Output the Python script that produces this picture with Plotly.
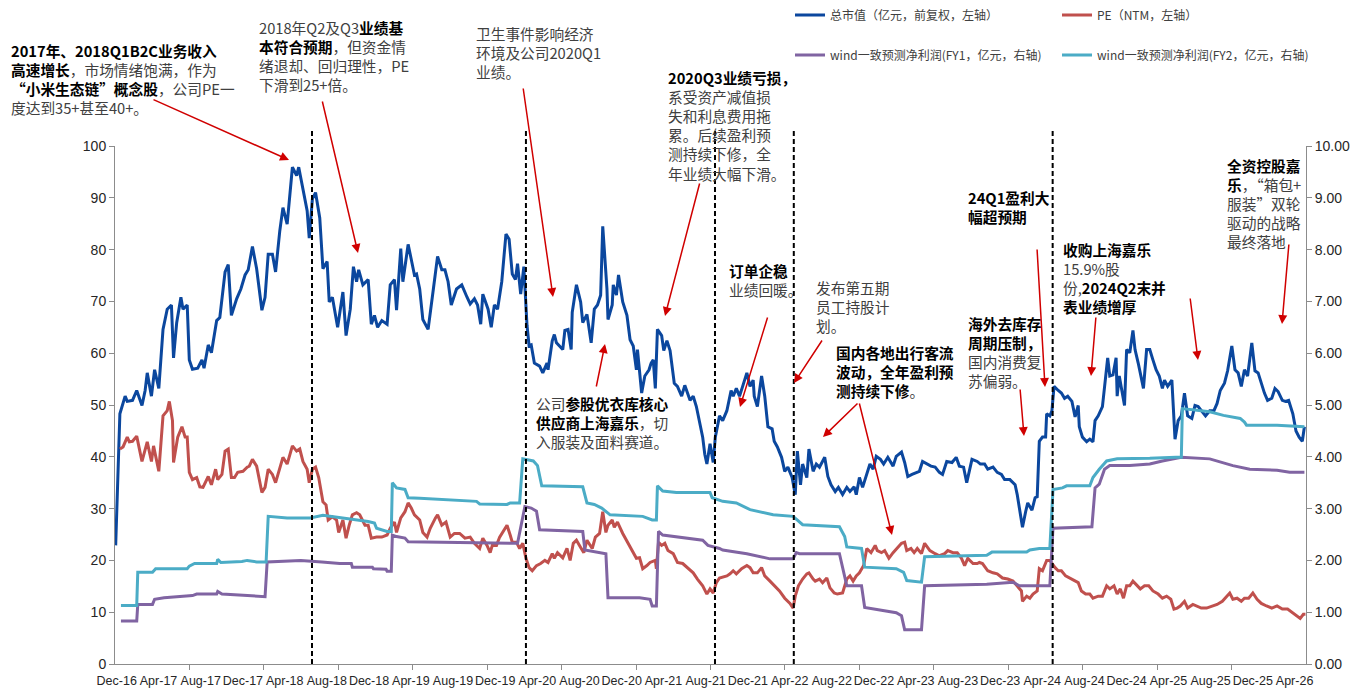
import numpy as np
import pandas as pd
import plotly.graph_objects as go

# ---------------- data ----------------
# time is given in months after 1 Dec 2016
mv_months = [
    -0.1, 0.3, 0.8, 1.0, 1.5, 1.9, 2.4, 2.7, 2.9, 3.3,
    3.6, 4.0, 4.4, 4.8, 5.2, 5.4, 5.7, 6.1, 6.3, 6.7,
    6.9, 7.2, 7.7, 8.1, 8.3, 8.7, 9.0, 9.5, 9.8, 10.3,
    10.6, 10.9, 11.4, 11.8, 12.2, 12.5, 12.9, 13.3, 13.8, 14.1,
    14.4, 14.8, 15.1, 15.5, 15.8, 16.2, 16.7, 17.1, 17.3, 17.7,
    18.1, 18.3, 18.6, 18.9, 19.3, 19.6, 20.0, 20.2, 20.5, 21.0,
    21.5, 21.8, 22.2, 22.5, 22.8, 23.0, 23.4, 23.9, 24.2, 24.5,
    24.8, 25.2, 25.7, 26.0, 26.4, 26.6, 27.0, 27.2, 27.7, 28.0,
    28.3, 28.5, 28.8, 29.1, 29.6, 30.1, 30.5, 30.9, 31.2, 31.5,
    31.8, 32.3, 32.8, 33.3, 33.6, 34.0, 34.3, 34.6, 34.8, 35.3,
    35.6, 35.9, 36.2, 36.6, 37.0, 37.3, 37.6, 37.9, 38.1, 38.4,
    38.7, 39.0, 39.2, 39.4, 39.7, 40.2, 40.5, 40.9, 41.0, 41.4,
    41.6, 41.8, 42.1, 42.4, 42.6, 42.9, 43.2, 43.3, 43.7, 44.1,
    44.3, 44.7, 45.1, 45.4, 45.7, 46.0, 46.2, 46.6, 46.7, 47.1,
    47.2, 47.5, 47.7, 48.1, 48.5, 48.8, 49.1, 49.4, 49.5, 49.9,
    50.2, 50.6, 50.8, 51.0, 51.2, 51.4, 51.8, 52.0, 52.3, 52.6,
    53.0, 53.3, 53.7, 54.0, 54.5, 54.8, 55.1, 55.4, 55.7, 55.9,
    56.1, 56.4, 56.7, 56.9, 57.3, 57.6, 58.0, 58.4, 58.6, 58.9,
    59.2, 59.5, 59.9, 60.2, 60.5, 60.6, 60.9, 61.3, 61.6, 61.9,
    62.3, 62.5, 62.8, 63.2, 63.5, 63.8, 64.2, 64.5, 64.7, 65.0,
    65.2, 65.6, 65.8, 66.2, 66.5, 66.8, 67.3, 67.6, 67.9, 68.3,
    68.6, 69.0, 69.4, 69.7, 70.1, 70.3, 70.6, 70.9, 71.3, 71.6,
    71.9, 72.2, 72.6, 72.9, 73.3, 73.8, 74.1, 74.6, 74.9, 75.2,
    75.6, 76.0, 76.3, 76.6, 77.0, 77.4, 77.8, 78.2, 78.5, 78.9,
    79.4, 79.8, 80.1, 80.5, 80.8, 81.3, 81.8, 82.1, 82.5, 82.8,
    83.3, 83.7, 84.1, 84.4, 84.9, 85.4, 85.6, 86.1, 86.4, 86.6,
    87.0, 87.3, 87.5, 87.7, 88.0, 88.3, 88.4, 88.7, 88.9, 89.1,
    89.5, 89.8, 90.1, 90.4, 90.8, 91.1, 91.4, 91.5, 91.8, 92.2,
    92.5, 92.8, 93.0, 93.3, 93.7, 93.9, 94.2, 94.4, 94.7, 95.0,
    95.1, 95.3, 95.6, 95.8, 96.0, 96.3, 96.6, 96.8, 97.1, 97.4,
    97.6, 97.9, 98.2, 98.5, 98.8, 99.1, 99.4, 99.6, 99.9, 100.3,
    100.6, 100.9, 101.2, 101.5, 101.8, 102.2, 102.5, 102.8, 103.2, 103.5,
    103.9, 104.3, 104.6, 104.9, 105.3, 105.6, 106.0, 106.3, 106.6, 106.9,
    107.2, 107.5, 107.9, 108.2, 108.5, 108.9, 109.1, 109.4, 109.8, 110.1,
    110.4, 110.8, 111.1, 111.4, 111.8, 112.1, 112.4, 112.7, 112.9,
]
mv_values = [
    22.9, 48.3, 51.7, 50.7, 50.9, 52.8, 49.9, 52.8, 56.2, 51.7,
    56.8, 53.2, 64.6, 68.5, 69.3, 59.1, 65.9, 70.8, 68.5, 69.3,
    58.7, 56.9, 57.1, 58.7, 57.1, 61.6, 60.1, 66.3, 66.9, 75.7,
    77.1, 67.3, 70.5, 72.4, 75.1, 76.1, 80.6, 76.3, 68.3, 70.8,
    79.1, 79.1, 75.7, 83.6, 88.1, 84.9, 95.9, 94.3, 95.9, 91.4,
    87.5, 82.2, 89.8, 91.0, 86.1, 76.3, 77.7, 69.9, 70.8, 65.0,
    71.8, 63.4, 68.5, 76.7, 73.8, 76.1, 73.2, 74.2, 65.6, 67.3,
    65.0, 66.3, 65.6, 73.2, 74.2, 68.3, 80.2, 73.8, 81.0, 78.1,
    75.1, 75.3, 72.4, 66.5, 64.6, 72.4, 78.7, 76.1, 76.1, 73.8,
    69.3, 72.4, 73.2, 70.8, 69.5, 70.5, 69.3, 65.6, 71.4, 68.5,
    65.0, 69.3, 68.5, 73.8, 83.0, 82.0, 75.3, 74.2, 77.3, 71.4,
    76.7, 65.4, 61.4, 61.6, 58.1, 57.5, 56.2, 58.1, 56.8, 62.4,
    63.6, 62.0, 61.4, 60.7, 64.4, 64.6, 60.7, 67.9, 73.2, 69.9,
    65.9, 67.5, 62.0, 68.5, 69.3, 71.2, 84.5, 72.4, 66.5, 69.3,
    73.2, 71.2, 75.1, 69.9, 67.3, 62.6, 61.4, 56.8, 60.7, 52.3,
    55.6, 56.8, 58.1, 58.7, 53.2, 64.6, 63.4, 60.5, 62.4, 60.5,
    54.2, 53.6, 51.7, 53.8, 50.9, 51.7, 49.7, 46.4, 43.8, 40.5,
    38.6, 42.5, 38.9, 43.8, 47.9, 47.0, 48.9, 52.8, 51.7, 53.2,
    51.7, 53.6, 56.2, 53.6, 54.8, 51.7, 49.7, 55.6, 51.7, 45.8,
    45.4, 43.0, 41.9, 39.9, 37.2, 38.0, 36.0, 32.7, 41.1, 34.6,
    38.6, 36.0, 41.5, 37.2, 38.6, 38.0, 39.9, 36.2, 34.6, 33.3,
    34.1, 32.7, 34.1, 33.3, 34.2, 32.7, 36.0, 34.1, 36.6, 38.6,
    37.6, 40.1, 39.5, 38.6, 39.9, 38.2, 40.1, 40.9, 38.9, 36.2,
    36.6, 37.0, 37.2, 39.1, 38.6, 38.2, 38.0, 37.0, 36.6, 39.1,
    38.9, 39.9, 38.2, 38.0, 35.0, 39.5, 39.1, 38.6, 38.6, 37.6,
    38.0, 37.0, 36.6, 35.6, 35.6, 34.6, 32.7, 26.4, 29.4, 31.1,
    29.7, 32.1, 32.3, 43.0, 43.8, 43.8, 48.3, 47.9, 48.9, 53.6,
    52.8, 52.3, 51.3, 51.7, 50.7, 47.7, 49.9, 45.8, 43.8, 42.9,
    43.4, 42.9, 47.0, 47.9, 49.7, 53.6, 59.1, 55.6, 55.8, 59.1,
    51.7, 55.6, 52.6, 49.9, 60.7, 60.1, 64.4, 60.7, 58.1, 54.8,
    53.2, 60.7, 60.7, 58.7, 56.8, 55.6, 53.2, 54.8, 53.6, 54.8,
    43.4, 47.0, 47.9, 52.3, 47.9, 47.4, 49.9, 49.7, 48.7, 47.9,
    48.9, 48.9, 50.3, 52.8, 54.2, 56.6, 61.4, 56.8, 56.2, 53.6,
    56.8, 55.6, 62.0, 56.6, 56.2, 53.6, 52.3, 50.9, 51.3, 53.2,
    52.6, 50.9, 50.7, 50.9, 48.3, 45.0, 43.8, 43.0, 45.8,
]

pe_months = [
    0.3, 0.6, 1.0, 1.2, 1.5, 1.9, 2.4, 2.7, 2.9, 3.3, 3.5,
    4.0, 4.4, 4.8, 5.0, 5.3, 5.4, 5.8, 6.2, 6.5, 6.7,
    6.9, 7.2, 7.6, 7.9, 8.2, 8.7, 9.0, 9.4, 9.6, 10.0,
    10.3, 10.6, 10.9, 11.2, 11.5, 12.0, 12.4, 12.6, 12.9, 13.3,
    13.8, 14.1, 14.4, 14.8, 15.1, 15.5, 15.8, 16.2, 16.7, 17.1,
    17.4, 17.7, 18.1, 18.3, 18.6, 18.9, 19.2, 19.6, 19.9, 20.1,
    20.5, 20.9, 21.1, 21.5, 21.8, 22.1, 22.4, 22.8, 23.1, 23.6,
    23.9, 24.2, 24.7, 25.2, 25.7, 26.0, 26.4, 26.6, 27.0, 27.4,
    27.7, 28.0, 28.3, 28.8, 29.1, 29.5, 29.8, 30.3, 30.5, 30.9,
    31.3, 31.7, 32.1, 32.6, 33.1, 33.6, 34.0, 34.5, 34.8, 35.2,
    35.5, 35.7, 36.1, 36.4, 36.7, 37.1, 37.4, 37.6, 38.0, 38.3,
    38.6, 38.9, 39.2, 39.5, 39.9, 40.3, 40.7, 41.0, 41.4, 41.6,
    41.9, 42.4, 42.8, 43.1, 43.4, 43.7, 44.1, 44.4, 44.7, 45.2,
    45.5, 45.9, 46.2, 46.5, 46.7, 47.1, 47.3, 47.6, 48.1, 48.6,
    49.0, 49.4, 49.7, 50.0, 50.4, 50.7, 51.2, 51.3, 51.5, 51.8,
    52.1, 52.4, 52.9, 53.3, 53.8, 54.3, 54.8, 55.2, 55.7, 56.1,
    56.4, 56.7, 57.0, 57.3, 58.0, 58.3, 58.6, 58.9, 59.4, 59.9,
    60.2, 60.5, 60.9, 61.3, 61.6, 62.1, 62.5, 63.0, 63.5, 64.0,
    64.3, 64.5, 64.8, 65.2, 65.6, 65.8, 66.2, 66.4, 66.8, 67.1,
    67.5, 67.8, 68.2, 68.5, 69.0, 69.4, 69.7, 70.0, 70.3, 70.6,
    71.0, 71.3, 71.7, 72.1, 72.3, 72.7, 73.0, 73.4, 73.8, 74.2,
    74.6, 74.9, 75.1, 75.5, 75.8, 76.1, 76.5, 76.8, 77.3, 77.8,
    78.2, 78.7, 79.0, 79.5, 79.9, 80.3, 80.6, 80.9, 81.4, 81.8,
    82.0, 82.3, 82.8, 83.3, 83.7, 84.2, 84.7, 85.2, 85.6, 86.0,
    86.1, 86.5, 86.8, 87.1, 87.5, 87.7, 88.0, 88.4, 88.7, 89.0,
    89.2, 89.5, 89.8, 90.2, 90.6, 91.1, 91.4, 91.7, 92.1, 92.5,
    92.8, 93.3, 93.7, 94.1, 94.4, 94.8, 95.1, 95.4, 95.7, 96.0,
    96.3, 96.6, 97.0, 97.3, 97.7, 98.1, 98.5, 99.0, 99.4, 99.8,
    100.2, 100.5, 100.8, 101.1, 101.5, 101.8, 102.3, 102.7, 103.1, 103.6,
    104.1, 104.6, 105.1, 105.4, 105.8, 106.1, 106.5, 106.9, 107.2, 107.6,
    108.0, 108.4, 108.8, 109.3, 109.8, 110.3, 110.8, 111.3, 111.8, 112.2,
    112.5, 112.8, 113.0,
]
pe_values = [
    41.5, 41.9, 43.8, 42.9, 43.0, 44.0, 39.1, 41.1, 42.9, 39.1, 42.1,
    37.2, 47.9, 48.9, 50.7, 47.0, 38.9, 43.8, 45.8, 43.8, 43.8,
    37.0, 35.6, 36.0, 34.2, 34.1, 36.2, 34.6, 37.6, 35.6, 36.6,
    41.1, 41.5, 36.0, 36.0, 37.0, 37.2, 38.0, 38.2, 39.5, 38.2,
    33.1, 34.1, 37.6, 36.6, 35.0, 37.6, 39.9, 38.6, 42.1, 41.1,
    41.5, 39.1, 37.6, 35.0, 37.6, 38.0, 36.0, 31.3, 30.7, 27.8,
    28.4, 27.8, 25.4, 27.8, 24.3, 26.8, 28.8, 29.2, 28.8, 26.8,
    26.8, 24.3, 24.5, 24.5, 24.9, 26.2, 27.4, 25.4, 28.2, 29.4,
    31.1, 30.1, 28.8, 27.8, 25.4, 24.5, 26.2, 28.2, 28.8, 26.8,
    27.4, 24.5, 25.2, 25.2, 24.3, 24.5, 23.3, 22.3, 24.3, 22.9,
    21.5, 22.9, 22.9, 24.5, 25.4, 26.8, 24.9, 23.5, 23.5, 22.3,
    23.3, 20.4, 18.6, 18.0, 19.0, 19.4, 20.0, 19.6, 21.3, 20.4,
    21.5, 20.5, 22.3, 20.0, 23.3, 23.9, 22.5, 21.5, 23.9, 22.3,
    24.5, 25.2, 29.4, 25.4, 26.8, 27.8, 26.4, 27.4, 25.2, 23.3,
    21.9, 20.4, 20.5, 18.4, 19.0, 19.6, 20.0, 18.4, 23.5, 22.9,
    23.3, 21.9, 21.3, 19.6, 19.4, 18.4, 17.6, 16.4, 15.1, 13.5,
    14.5, 13.7, 15.7, 16.6, 17.0, 17.4, 18.0, 17.4, 18.4, 19.0,
    18.6, 17.6, 17.6, 18.6, 17.0, 16.0, 15.1, 14.1, 12.7, 11.7,
    10.8, 13.1, 15.1, 16.4, 17.4, 17.6, 16.4, 16.0, 16.4, 15.7,
    16.6, 14.7, 13.7, 13.5, 13.7, 16.4, 17.0, 16.0, 17.0, 17.6,
    19.0, 22.3, 21.5, 22.9, 21.9, 21.5, 21.9, 20.4, 21.5, 22.3,
    23.3, 23.5, 21.9, 22.3, 21.5, 22.3, 21.3, 23.3, 21.9, 21.3,
    20.9, 21.3, 21.9, 21.5, 21.5, 20.4, 19.0, 20.4, 19.4, 19.4,
    19.6, 19.4, 18.0, 17.6, 17.4, 16.6, 16.4, 16.0, 15.1, 14.1,
    12.1, 13.1, 12.7, 13.5, 14.1, 18.4, 18.0, 20.0, 20.0, 19.0,
    18.6, 18.0, 18.0, 17.0, 16.6, 16.0, 15.7, 14.1, 13.5, 13.5,
    12.7, 13.1, 13.1, 15.1, 14.5, 15.1, 13.5, 14.5, 12.7, 15.1,
    15.1, 16.0, 15.1, 14.5, 15.1, 15.1, 14.1, 13.5, 12.7, 13.1,
    12.5, 10.6, 10.8, 11.2, 12.1, 10.8, 11.5, 11.2, 10.8, 10.8,
    11.2, 11.5, 12.1, 12.7, 13.7, 12.5, 12.7, 12.1, 12.7, 12.7,
    13.7, 12.5, 11.7, 11.2, 10.8, 11.2, 10.6, 10.6, 9.8, 9.2,
    8.8, 9.6, 9.6,
]

fy1_months = [
    0.4, 1.9, 2.0, 3.4, 3.6, 4.5, 7.2, 7.6, 9.5, 9.6,
    10.0, 12.0, 14.1, 14.3, 16.2, 17.5, 19.5, 21.2, 22.3, 22.4,
    24.3, 24.4, 25.6, 25.7, 26.1, 26.2, 26.6, 27.4, 27.7, 38.1,
    38.8, 39.4, 39.9, 40.2, 44.3, 44.5, 46.5, 46.7, 49.7, 50.7,
    50.9, 51.3, 51.5, 51.9, 55.7, 56.2, 57.3, 57.6, 59.9, 62.1,
    64.3, 64.6, 64.9, 68.7, 69.4, 70.8, 71.1, 74.1, 74.6, 74.9,
    76.5, 76.8, 82.7, 85.2, 85.8, 88.7, 89.0, 92.7, 93.0, 93.4,
    93.9, 94.4, 96.3, 98.2, 99.4, 101.2, 103.9, 105.2, 106.1, 107.7,
    110.3, 111.5, 112.9,
]
fy1_values = [
    0.83, 0.83, 1.15, 1.15, 1.25, 1.28, 1.32, 1.35, 1.35, 1.40,
    1.35, 1.33, 1.30, 1.97, 1.99, 2.00, 1.97, 1.94, 1.94, 1.87,
    1.87, 1.84, 1.83, 1.79, 1.79, 2.49, 2.46, 2.43, 2.36, 2.33,
    3.04, 3.01, 2.95, 2.59, 2.56, 2.20, 2.13, 1.28, 1.28, 1.25,
    1.12, 1.12, 2.56, 2.49, 2.39, 2.29, 2.23, 2.20, 2.13, 2.03,
    2.03, 2.15, 2.13, 2.13, 1.51, 1.51, 1.09, 0.99, 0.93, 0.66,
    0.66, 1.51, 1.54, 1.58, 1.51, 1.51, 2.62, 2.65, 3.40, 3.47,
    3.76, 3.83, 3.83, 3.86, 3.92, 3.99, 3.96, 3.89, 3.83, 3.76,
    3.74, 3.70, 3.70,
]

fy2_months = [
    0.4, 1.9, 2.0, 3.4, 3.7, 6.7, 6.9, 7.4, 9.5, 9.6,
    9.9, 11.9, 12.4, 13.3, 14.2, 14.4, 16.2, 18.4, 19.6, 21.5,
    22.8, 23.9, 24.5, 24.7, 25.7, 26.1, 26.2, 26.6, 27.4, 27.7,
    28.8, 31.0, 34.2, 34.5, 37.1, 37.4, 38.3, 38.6, 39.6, 40.0,
    40.4, 44.3, 44.7, 45.4, 46.1, 46.9, 50.0, 50.9, 51.3, 51.4,
    51.9, 53.2, 56.4, 56.6, 57.6, 58.9, 60.2, 62.4, 64.3, 65.2,
    68.7, 69.2, 69.4, 70.8, 71.1, 74.1, 74.8, 75.1, 76.5, 76.8,
    82.7, 83.2, 86.5, 86.8, 87.7, 88.7, 89.0, 89.9, 90.3, 92.5,
    92.8, 93.4, 94.1, 95.1, 97.6, 98.2, 100.7, 101.2, 101.3, 102.7,
    103.9, 105.2, 106.8, 107.2, 107.4, 110.3, 111.5, 112.9,
]
fy2_values = [
    1.13, 1.13, 1.77, 1.77, 1.84, 1.84, 1.89, 1.94, 1.94, 2.02,
    1.96, 1.98, 2.00, 1.97, 1.97, 2.85, 2.82, 2.82, 2.87, 2.82,
    2.78, 2.75, 2.72, 2.62, 2.56, 2.56, 3.50, 3.40, 3.37, 3.21,
    3.20, 3.17, 3.14, 3.09, 3.08, 3.11, 3.11, 3.96, 3.92, 3.83,
    3.44, 3.42, 3.11, 3.08, 3.01, 2.88, 2.85, 2.78, 2.78, 3.44,
    3.34, 3.31, 3.31, 3.21, 3.14, 3.11, 2.98, 2.88, 2.85, 2.69,
    2.65, 2.46, 2.26, 2.23, 1.87, 1.84, 1.77, 1.61, 1.58, 2.07,
    2.10, 2.16, 2.16, 2.20, 2.23, 2.23, 3.37, 3.40, 3.44, 3.44,
    3.60, 3.76, 3.92, 3.96, 3.96, 3.97, 3.99, 3.99, 4.93, 4.90,
    4.87, 4.80, 4.74, 4.67, 4.61, 4.61, 4.59, 4.58,
]

event_dates = ["2018-06-19", "2020-02-28", "2021-08-28", "2022-04-13", "2024-05-01"]

x_start, x_end = "2016-11-26", "2026-05-04"
x_label_dates = pd.date_range("2016-12-01", "2026-04-01", freq="4MS")

series_names = [
    "总市值（亿元，前复权，左轴）",
    "PE（NTM，左轴）",
    "wind一致预测净利润(FY1，亿元，右轴)",
    "wind一致预测净利润(FY2，亿元，右轴)",
]

# ---------------- helpers ----------------
W, H = 1363, 691
ML, MR, MT, MB = 115, 57, 146, 27
PW, PH = W - ML - MR, H - MT - MB

BASE = pd.Timestamp("2016-12-01")


def to_dates(months):
    return BASE + pd.to_timedelta(np.asarray(months, dtype=float) * 30.4375, unit="D")


def px(x):
    return (x - ML) / PW


def py(y):
    return (H - MB - y) / PH


CJK = "Noto Sans CJK SC"
NARROW = "Liberation Sans Narrow, Liberation Sans, sans-serif"
AXIS_GREY = "#8c8c8c"
ARROW_RED = "#D00000"
NOTE_SIZE = 14.7
FIRST_LINE_OFFSET = 12.2   # from block top to centre of first line


def B(s):
    return f"<span style='color:#000000'><b>{s}</b></span>"


# ---------------- figure ----------------
fig = go.Figure()
fig.add_trace(go.Scatter(
    x=to_dates(mv_months), y=mv_values, name=series_names[0], mode="lines",
    line=dict(color="#0B479E", width=3), legend="legend"))
fig.add_trace(go.Scatter(
    x=to_dates(pe_months), y=pe_values, name=series_names[1], mode="lines",
    line=dict(color="#C0504D", width=3), legend="legend"))
fig.add_trace(go.Scatter(
    x=to_dates(fy1_months), y=fy1_values, name=series_names[2], mode="lines",
    line=dict(color="#8064A2", width=3), yaxis="y2", legend="legend2"))
fig.add_trace(go.Scatter(
    x=to_dates(fy2_months), y=fy2_values, name=series_names[3], mode="lines",
    line=dict(color="#4BACC6", width=3), yaxis="y2", legend="legend2"))

# evenly spaced small tick marks along the time axis
t0, t1 = pd.Timestamp(x_start), pd.Timestamp(x_end)
minor_ticks = [t0 + (t1 - t0) * k / 16 for k in range(1, 16)]

xtickfont = dict(family=NARROW, size=12.5, color="#262626")
ytickfont = dict(family=NARROW, size=14, color="#262626")

fig.update_layout(
    width=W, height=H,
    margin=dict(l=ML, r=MR, t=MT, b=MB, pad=0, autoexpand=False),
    paper_bgcolor="white", plot_bgcolor="white",
    xaxis=dict(
        type="date", range=[x_start, x_end], automargin=False,
        tickmode="array", tickvals=list(x_label_dates), tickformat="%b-%y",
        tickangle=0, ticks="", ticklabelstandoff=5,
        showgrid=False, zeroline=False,
        showline=True, linecolor=AXIS_GREY, linewidth=1,
        tickfont=xtickfont,
        minor=dict(tickmode="array", tickvals=minor_ticks, ticks="outside",
                   ticklen=5, tickcolor=AXIS_GREY, tickwidth=1, showgrid=False),
    ),
    yaxis=dict(
        range=[0, 100], tickmode="linear", tick0=0, dtick=10, automargin=False,
        ticks="outside", ticklen=5, tickcolor=AXIS_GREY,
        showline=True, linecolor=AXIS_GREY, linewidth=1,
        showgrid=False, zeroline=False, tickfont=ytickfont,
    ),
    yaxis2=dict(
        range=[0, 10], tickmode="linear", tick0=0, dtick=1, tickformat=".2f",
        overlaying="y", side="right", automargin=False,
        ticks="outside", ticklen=5, tickcolor=AXIS_GREY,
        showline=True, linecolor=AXIS_GREY, linewidth=1,
        showgrid=False, zeroline=False, tickfont=ytickfont,
    ),
    legend=dict(
        orientation="h", xref="container", yref="container",
        x=790 / W, y=1 - 15 / H, xanchor="left", yanchor="middle",
        entrywidth=222, entrywidthmode="pixels",
        font=dict(family=CJK, size=12, color="#404040"),
        bgcolor="rgba(0,0,0,0)", borderwidth=0,
    ),
    legend2=dict(
        orientation="h", xref="container", yref="container",
        x=790 / W, y=1 - 55 / H, xanchor="left", yanchor="middle",
        entrywidth=222, entrywidthmode="pixels",
        font=dict(family=CJK, size=12, color="#404040"),
        bgcolor="rgba(0,0,0,0)", borderwidth=0,
    ),
)

# event lines
for d in event_dates:
    fig.add_shape(type="line", xref="x", yref="paper", x0=d, x1=d, y0=0, y1=py(131),
                  line=dict(color="black", width=2, dash="5px,3px"), layer="above")

# commentary text blocks: (left px, first-line centre px, lines)
notes = [
    (10, 51, [B("2017年、2018Q1B2C业务收入"), B("高速增长") + "，市场情绪饱满，作为",
              B("“小米生态链”概念股") + "，公司PE一", "度达到35+甚至40+。"]),
    (258, 28, ["2018年Q2及Q3" + B("业绩基"), B("本符合预期") + "，但资金情",
               "绪退却、回归理性，PE", "下滑到25+倍。"]),
    (475, 34, ["卫生事件影响经济", "环境及公司2020Q1", "业绩。"]),
    (667, 78, [B("2020Q3业绩亏损，"), "系受资产减值损", "失和利息费用拖",
               "累。后续盈利预", "测持续下修，全", "年业绩大幅下滑。"]),
    (535, 404, ["公司" + B("参股优衣库核心"), B("供应商上海嘉乐") + "，切", "入服装及面料赛道。"]),
    (728, 271, [B("订单企稳"), "业绩回暖。"]),
    (815, 288, ["发布第五期", "员工持股计", "划。"]),
    (835, 353, [B("国内各地出行客流"), B("波动，全年盈利预"), B("测持续下修") + "。"]),
    (967, 324, [B("海外去库存"), B("周期压制，"), "国内消费复", "苏偏弱。"]),
    (967, 198, [B("24Q1盈利大"), B("幅超预期")]),
    (1062, 250, [B("收购上海嘉乐"), "15.9%股", "份," + B("2024Q2末并"), B("表业绩增厚")]),
    (1226, 166, [B("全资控股嘉"), B("乐") + "，“箱包+", "服装”双轮", "驱动的战略", "最终落地"]),
]
for x0, yc, lines in notes:
    fig.add_annotation(
        xref="paper", yref="paper", x=px(x0), y=py(yc - FIRST_LINE_OFFSET),
        xanchor="left", yanchor="top", align="left", showarrow=False,
        text="<br>".join(lines), borderpad=0,
        font=dict(family=CJK, size=NOTE_SIZE, color="#404040"),
    )

# pointer arrows: (tail x, tail y, head x, head y) in px
arrows = [
    (152, 99, 289, 160), (322, 100, 358, 253), (523, 87, 553, 297),
    (700, 182, 665, 316), (596, 388, 605, 344), (768, 316, 740, 407),
    (823, 339, 794, 383), (859, 402, 823, 437), (859, 402, 892, 535),
    (1020, 388, 1024, 436), (1037, 248, 1045, 387), (1096, 316, 1091, 376),
    (1190, 297, 1198, 360), (1289, 243, 1282, 324),
]
for tx, ty, hx, hy in arrows:
    fig.add_annotation(
        xref="paper", yref="paper", x=px(hx), y=py(hy),
        ax=tx - hx, ay=ty - hy, axref="pixel", ayref="pixel",
        text="", showarrow=True, arrowhead=2, arrowsize=1.2, arrowwidth=1.5,
        arrowcolor=ARROW_RED, standoff=0, startstandoff=0,
    )

fig.write_html("out.html")
